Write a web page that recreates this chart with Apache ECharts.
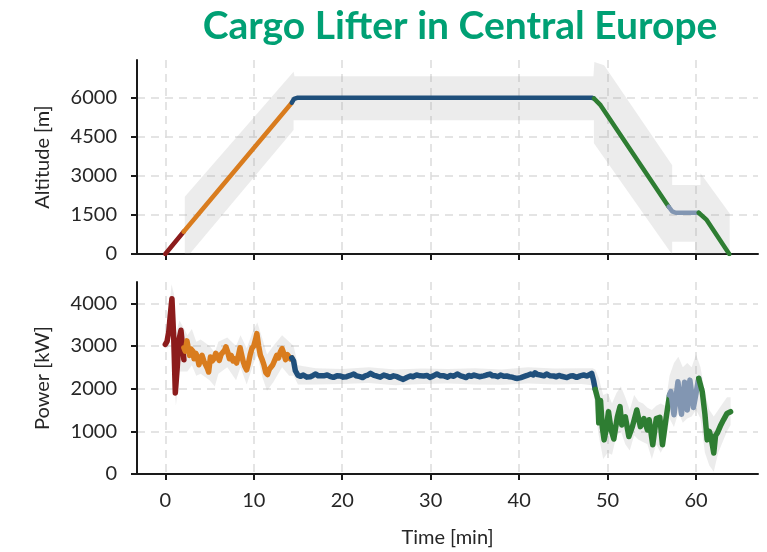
<!DOCTYPE html>
<html>
<head>
<meta charset="utf-8">
<script src="https://cdn.jsdelivr.net/npm/echarts@6/dist/echarts.min.js"></script>
<style>html,body{margin:0;padding:0;background:#fff;}#chart{width:767px;height:552px;}</style>
</head>
<body>
<div id="chart"></div>
<script>
// ---------------- DATA ----------------
const titleText = 'Cargo Lifter in Central Europe';
const xTicks = [0, 10, 20, 30, 40, 50, 60];
const altTicks = [0, 1500, 3000, 4500, 6000];
const powTicks = [0, 1000, 2000, 3000, 4000];

// Altitude [m] per phase, [time min, altitude m]
const altTakeoff = [[0, 0], [2.07, 855]];
const altClimb = [[2.07, 855], [14.3, 5810]];
const altCruise = [[14.3, 5810], [14.55, 5960], [14.9, 6000], [48.2, 6000], [48.45, 5975]];
const altDescent = [[48.45, 5975], [49.2, 5716], [56.9, 1815]];
const altLoiter = [[56.9, 1815], [57.3, 1640], [57.7, 1585], [60.3, 1585]];
const altFinal = [[60.3, 1585], [61.2, 1310], [63.75, 0]];

// Altitude spread band
const altBandUpper = [[2.2, 0], [2.2, 2200], [14.5, 7000], [14.6, 6830], [48.4, 6830], [48.5, 7370], [49.6, 7250], [57.3, 3410], [57.3, 2650], [60.5, 2650], [60.5, 3100], [63.8, 1560], [63.8, 0]];
const altBandLower = [[2.75, 0], [14.5, 4760], [14.5, 5140], [48.45, 5140], [48.45, 4250], [57.25, 0], [57.3, 0], [57.3, 470], [59.9, 470], [59.9, 0], [63.8, 0]];

// Power [kW] per phase
const powTakeoff = [[0, 3040], [0.2, 3110], [0.4, 3350], [0.55, 3700], [0.75, 4110], [0.95, 3200], [1.13, 1900], [1.35, 2500], [1.55, 3150], [1.77, 3370], [1.95, 3000], [2.1, 2680]];
const powClimb = [[2.1, 2960], [2.25, 2880], [2.45, 3120], [2.6, 2950], [2.75, 2780], [2.9, 2930], [3.1, 2880], [3.25, 2700], [3.45, 2830], [3.6, 2760], [3.8, 2560], [4.0, 2700], [4.15, 2780], [4.35, 2650], [4.55, 2620], [4.75, 2480], [4.9, 2390], [5.1, 2740], [5.3, 2650], [5.5, 2700], [5.7, 2830], [5.9, 2760], [6.1, 2660], [6.3, 2800], [6.5, 2760], [6.7, 2900], [6.85, 2980], [7.05, 2860], [7.25, 2700], [7.45, 2780], [7.65, 2650], [7.85, 2700], [8.05, 2600], [8.25, 2760], [8.45, 2960], [8.6, 2820], [8.8, 2640], [9.0, 2520], [9.2, 2440], [9.4, 2600], [9.6, 2800], [9.8, 2950], [10.0, 3000], [10.2, 3150], [10.35, 3290], [10.55, 3000], [10.75, 2780], [10.95, 2680], [11.15, 2560], [11.35, 2380], [11.55, 2330], [11.75, 2450], [11.95, 2420], [12.15, 2560], [12.35, 2600], [12.6, 2780], [12.8, 2720], [13.0, 2860], [13.2, 2940], [13.4, 2820], [13.6, 2680], [13.8, 2800], [14.0, 2760], [14.15, 2700], [14.3, 2720]];
const powCruise = [[14.3, 2720], [14.5, 2650], [14.7, 2420], [15.0, 2310], [15.3, 2290], [15.6, 2320], [16.0, 2270], [16.4, 2281], [16.7, 2310], [17.0, 2343], [17.3, 2300], [17.5, 2281], [17.9, 2300], [18.3, 2320], [18.6, 2290], [19.0, 2265], [19.4, 2300], [19.8, 2296], [20.1, 2270], [20.5, 2281], [20.9, 2310], [21.3, 2343], [21.6, 2300], [22.0, 2281], [22.3, 2260], [22.6, 2300], [22.9, 2320], [23.2, 2358], [23.6, 2310], [23.9, 2296], [24.3, 2270], [24.7, 2320], [25.0, 2300], [25.4, 2265], [25.8, 2300], [26.2, 2281], [26.5, 2250], [26.9, 2218], [27.3, 2260], [27.7, 2296], [28.0, 2280], [28.4, 2320], [28.8, 2300], [29.2, 2296], [29.6, 2310], [29.9, 2265], [30.3, 2300], [30.7, 2343], [31.1, 2300], [31.5, 2300], [31.9, 2270], [32.2, 2310], [32.6, 2290], [33.0, 2343], [33.4, 2300], [33.7, 2281], [34.0, 2260], [34.3, 2310], [34.6, 2290], [34.9, 2320], [35.5, 2280], [36.0, 2300], [36.3, 2320], [36.7, 2343], [37.0, 2300], [37.3, 2300], [37.6, 2280], [37.9, 2320], [38.3, 2290], [38.6, 2296], [38.9, 2280], [39.2, 2270], [39.5, 2250], [39.8, 2240], [40.2, 2260], [40.5, 2281], [40.9, 2310], [41.3, 2343], [41.6, 2320], [41.8, 2370], [42.1, 2330], [42.4, 2320], [42.8, 2300], [43.1, 2343], [43.5, 2300], [43.9, 2296], [44.2, 2280], [44.5, 2310], [44.8, 2290], [45.0, 2281], [45.4, 2260], [45.8, 2296], [46.1, 2300], [46.5, 2265], [46.9, 2300], [47.3, 2320], [47.5, 2290], [47.7, 2296], [47.95, 2330], [48.2, 2358], [48.4, 2200], [48.6, 1985]];
const powDescent = [[48.6, 1985], [48.9, 1750], [49.0, 1200], [49.2, 1720], [49.4, 1100], [49.6, 800], [49.8, 1000], [50.1, 1460], [50.4, 1030], [50.7, 820], [51.1, 1340], [51.4, 1580], [51.6, 1150], [52.0, 1340], [52.4, 880], [52.8, 1110], [53.3, 1500], [53.7, 1110], [54.1, 1300], [54.5, 1030], [54.7, 1270], [55.1, 685], [55.5, 1300], [55.9, 1330], [56.2, 685], [56.6, 1300], [57.0, 1850]];
const powLoiter = [[57.0, 1850], [57.15, 1930], [57.5, 1390], [57.95, 2160], [58.35, 1400], [58.7, 2150], [59.0, 1500], [59.3, 2200], [59.7, 1560], [60.3, 2240]];
const powFinal = [[60.3, 2240], [60.7, 1930], [61.0, 1400], [61.25, 800], [61.5, 1000], [61.7, 850], [62.0, 490], [62.2, 900], [62.4, 960], [62.6, 1000], [62.8, 1150], [63.1, 1270], [63.5, 1420], [63.9, 1460]];

// Power spread band
const powBandT = [0, 0.3, 0.7, 1.0, 1.2, 1.6, 2.0, 2.5, 3.0, 3.5, 4.0, 5.0, 5.6, 6.0, 7.0, 8.0, 8.5, 9.2, 10.0, 10.4, 11.0, 11.5, 12.2, 13.2, 14.0, 14.5, 15.0, 17, 20, 23, 26, 29, 32, 35, 38, 41, 44, 47, 48.3, 48.6, 49.0, 49.5, 50.0, 50.5, 51.0, 51.5, 52.0, 52.5, 53.0, 53.5, 54.0, 54.5, 55.0, 55.5, 56.0, 56.5, 57.0, 57.5, 58.0, 58.5, 59.0, 59.5, 60.0, 60.5, 61.0, 61.5, 62.0, 62.5, 63.0, 63.5, 63.9];
const powBandHi = [3150, 3500, 4450, 4200, 3300, 3600, 3450, 3250, 3400, 3100, 3150, 3000, 2850, 3100, 3200, 3000, 3250, 2950, 3400, 3550, 3150, 2800, 3000, 3250, 3100, 3000, 2550, 2480, 2460, 2500, 2450, 2470, 2460, 2480, 2450, 2500, 2470, 2480, 2480, 2450, 2250, 1850, 1900, 1650, 1900, 2050, 1800, 1500, 1850, 1700, 1650, 1550, 1500, 1600, 1650, 1600, 2300, 2600, 2750, 2500, 2600, 2500, 2800, 2500, 1900, 1500, 1350, 1500, 1650, 1800, 1800];
const powBandLo = [2950, 2950, 3300, 2200, 1600, 2400, 2400, 2400, 2550, 2300, 2350, 2200, 2050, 2350, 2500, 2200, 2500, 2100, 2600, 2800, 2250, 1950, 2150, 2500, 2300, 2300, 2100, 2100, 2110, 2130, 2080, 2110, 2120, 2100, 2090, 2120, 2100, 2110, 2080, 1500, 900, 350, 500, 450, 900, 1000, 700, 550, 900, 800, 750, 700, 350, 700, 500, 700, 1300, 1100, 1450, 1200, 1300, 1350, 1500, 1300, 500, 200, 50, 500, 750, 1000, 1150];

// ---------------- STYLE ----------------
const phaseColors = ['#8c1c1c', '#d97c1e', '#1f4f7b', '#2e7d32', '#8296b2', '#2e7d32'];
const FONT = 'Lato';
const GRID_COLOR = '#dcdcdc';

const chart = echarts.init(document.getElementById('chart'), null, { renderer: 'canvas' });

function bandSeries(upper, lower, xi, yi) {
  const poly = upper.concat(lower.slice().reverse());
  return {
    type: 'custom', xAxisIndex: xi, yAxisIndex: yi, silent: true, z: 1,
    data: [[0, 0]],
    renderItem: function (params, api) {
      return {
        type: 'polygon',
        shape: { points: poly.map(function (p) { return api.coord(p); }) },
        style: { fill: 'rgba(150,150,150,0.18)' }
      };
    }
  };
}

function lineSeries(data, color, xi, yi, w) {
  return {
    type: 'line', data: data, xAxisIndex: xi, yAxisIndex: yi,
    showSymbol: false, symbol: 'none', silent: true, z: 3,
    lineStyle: { color: color, width: w, join: 'round', cap: 'round' }
  };
}

const powBandUpper = powBandT.map(function (t, i) { return [t, powBandHi[i]]; });
const powBandLower = powBandT.map(function (t, i) { return [t, powBandLo[i]]; });

const altSets = [altTakeoff, altClimb, altCruise, altDescent, altLoiter, altFinal];
const powSets = [powTakeoff, powClimb, powCruise, powDescent, powLoiter, powFinal];

const series = [bandSeries(altBandUpper, altBandLower, 0, 0), bandSeries(powBandUpper, powBandLower, 1, 1)];
altSets.forEach(function (d, i) { series.push(lineSeries(d, phaseColors[i], 0, 0, 4.5)); });
powSets.forEach(function (d, i) { series.push(lineSeries(d, phaseColors[i], 1, 1, 5.5)); });

function plain(v) { return String(v); }

function xAxis(gi, showLabels) {
  return {
    type: 'value', gridIndex: gi, min: -3.2, max: 67,
    axisLine: { show: true, onZero: false, lineStyle: { color: '#1a1a1a', width: 2 } },
    axisTick: { show: true, customValues: xTicks, length: 6, lineStyle: { color: '#1a1a1a', width: 2 } },
    axisLabel: { show: showLabels, customValues: xTicks, formatter: plain, fontFamily: FONT, fontSize: 20, color: '#262626', margin: 17 },
    splitLine: { show: true, lineStyle: { color: GRID_COLOR, width: 1.5, type: [8, 6] } },
    name: showLabels ? 'Time [min]' : '', nameLocation: 'middle', nameGap: 54,
    nameTextStyle: { fontFamily: FONT, fontSize: 20, color: '#262626' }
  };
}
function yAxis(gi, max, ticks, name) {
  return {
    type: 'value', gridIndex: gi, min: 0, max: max,
    axisLine: { show: true, onZero: false, lineStyle: { color: '#1a1a1a', width: 2 } },
    axisTick: { show: true, customValues: ticks, length: 6, lineStyle: { color: '#1a1a1a', width: 2 } },
    axisLabel: { customValues: ticks, formatter: plain, fontFamily: FONT, fontSize: 20, color: '#262626', margin: 20 },
    splitLine: { show: true, lineStyle: { color: GRID_COLOR, width: 1.5, type: [8, 6] } },
    name: name, nameLocation: 'middle', nameGap: 84, nameRotate: 90,
    nameTextStyle: { fontFamily: FONT, fontSize: 20, color: '#262626' }
  };
}

chart.setOption({
  animation: false,
  backgroundColor: '#ffffff',
  title: {
    text: titleText, left: 455, top: 2, textAlign: 'center',
    textStyle: { fontFamily: FONT, fontWeight: 'bold', fontSize: 39, color: '#00a074' }
  },
  grid: [
    { left: 137, top: 60, width: 621, height: 194 },
    { left: 137, top: 282, width: 621, height: 192 }
  ],
  xAxis: [xAxis(0, false), xAxis(1, true)],
  yAxis: [yAxis(0, 7450, altTicks, 'Altitude [m]'), yAxis(1, 4500, powTicks, 'Power [kW]')],
  series: series
});
</script>
</body>
</html>
